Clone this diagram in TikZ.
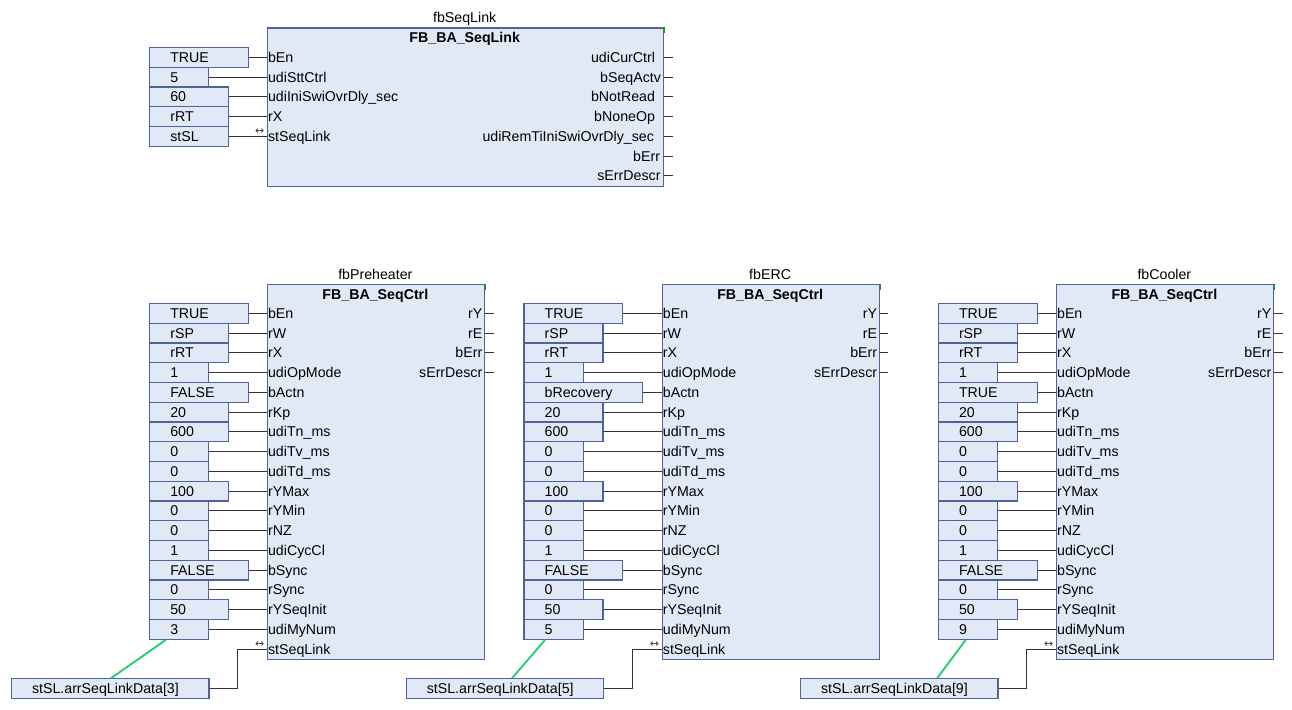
\documentclass[tikz,border=0pt]{standalone}
\usepackage{fontspec}
\setmainfont{Liberation Sans}
\newfontfamily\arrowfont{DejaVu Sans}
\usetikzlibrary{calc}

\definecolor{boxfill}{RGB}{225,233,246}
\definecolor{boxline}{RGB}{78,100,152}
\definecolor{wirecol}{RGB}{50,50,50}
\definecolor{linkgreen}{RGB}{30,205,110}
\definecolor{pingreen}{RGB}{20,150,40}

\tikzset{
  every node/.style={font=\fontsize{14.2}{16}\selectfont, inner sep=0pt, text=black},
  fbbox/.style={draw=boxline, fill=boxfill, line width=1.2pt},
  inbox/.style={draw=boxline, fill=boxfill, line width=1.2pt, minimum height=19.76pt,
                text height=13pt, text depth=3pt, anchor=west},
  wire/.style={draw=wirecol, line width=1pt},
  glink/.style={draw=linkgreen, line width=1.8pt},
  pinlbl/.style={anchor=base west},
  outlbl/.style={anchor=base east},
  typelbl/.style={anchor=base, font=\fontsize{14.2}{16}\selectfont\bfseries},
  instlbl/.style={anchor=base},
  biarrow/.style={font=\arrowfont\fontsize{11}{11}\selectfont, text=black!75},
  okmark/.style={draw=pingreen, line width=1.2pt},
}

% One FB_BA_SeqCtrl instance with its constant inputs and the link array element
% #1 id, #2 block left x, #3 input column x, #4 instance name, #5 inputs (text/width),
% #6 array index, #7 green link offset at the MyNum box, #8 green link offset at the array box
\newcommand\seqblock[8]{%
  \node[fbbox, minimum width=217.3pt, minimum height=375.1pt, anchor=north west] (#1) at (#2,284) {};
  \draw[okmark] (#1.north east) -- ++(0,6);
  \node[instlbl] (#1-inst) at ({#2+108.65},279.5) {#4};
  \node[typelbl] (#1-type) at ({#2+108.65},299.2) {FB\_BA\_SeqCtrl};
  \foreach \txt/\bw [count=\k from 0] in {#5} {
    \pgfmathsetmacro\yy{313.3+\k*19.76}
    \pgfmathsetlengthmacro\ww{\bw*19.76pt}
    \node[inbox] (#1-in\k) at (#3,\yy) {\makebox[\ww][l]{\hspace{20.7pt}\txt}};
    \draw[wire] (#1-in\k.east) -- (#1-in\k.east -| #1.west);
  }
  \foreach \pin [count=\k from 0] in {bEn,rW,rX,udiOpMode,bActn,rKp,udiTn\_ms,udiTv\_ms,
      udiTd\_ms,rYMax,rYMin,rNZ,udiCycCl,bSync,rSync,rYSeqInit,udiMyNum,stSeqLink} {
    \node[pinlbl] (#1-pin\k) at ({#2+1.2},{313.3+\k*19.76+5}) {\pin};
  }
  \foreach \out [count=\k from 0] in {rY,rE,bErr,sErrDescr} {
    \node[outlbl] (#1-out\k) at ({#2+217.3-1.5},{313.3+\k*19.76+5}) {\out};
    \coordinate (#1-q\k) at ({#2+217.3+9.5},{313.3+\k*19.76});
    \draw[wire] (#1-q\k -| #1.east) -- (#1-q\k);
  }
  \node[inbox] (#1-link) at ({#2-256},688.7)
    {\makebox[197.6pt][l]{\hspace{20.7pt}stSL.arrSeqLinkData[#6]}};
  \coordinate (#1-bend) at ({#2-29.4},649.2);
  \draw[wire] (#1-link.east) -| (#1-bend) -- (#1-bend -| #1.west);
  \node[biarrow] (#1-bi) at ({#2-7},644.3) {↔};
  \draw[glink] ($(#1-in16.south west)+(#7,0)$) -- ($(#1-link.north west)+(#8,0)$);
}

\begin{document}
\begin{tikzpicture}[x=1pt,y=-1pt]
  \useasboundingbox (0,0) rectangle (1292,709);
  \fill[white] (0,0) rectangle (1292,709);

  % ---------- FB_BA_SeqLink ----------
  \node[fbbox, minimum width=396pt, minimum height=158.3pt, anchor=north west] (sl) at (266.7,27.5) {};
  \draw[okmark] (sl.north east) -- ++(0,6);
  \node[instlbl] (sl-inst) at (464.7,22.7) {fbSeqLink};
  \node[typelbl] (sl-type) at (464.7,42.5) {FB\_BA\_SeqLink};
  \foreach \txt/\bw [count=\k from 0] in {TRUE/5,5/3,60/4,rRT/4,stSL/4} {
    \pgfmathsetmacro\yy{57.3+\k*19.76}
    \pgfmathsetlengthmacro\ww{\bw*19.76pt}
    \node[inbox] (sl-in\k) at (149,\yy) {\makebox[\ww][l]{\hspace{20.7pt}\txt}};
    \draw[wire] (sl-in\k.east) -- (sl-in\k.east -| sl.west);
  }
  \foreach \pin [count=\k from 0] in {bEn,udiSttCtrl,udiIniSwiOvrDly\_sec,rX,stSeqLink} {
    \node[pinlbl] (sl-pin\k) at (267.9,{57.3+\k*19.76+5}) {\pin};
  }
  \foreach \out/\dx [count=\k from 0] in {udiCurCtrl/7.5,bSeqActv/1.5,bNotRead/7.5,bNoneOp/7.5,
      udiRemTiIniSwiOvrDly\_sec/8.5,bErr/2.5,sErrDescr/2} {
    \node[outlbl] (sl-out\k) at ({662.7-\dx},{57.3+\k*19.76+5}) {\out};
    \coordinate (sl-q\k) at (672.7,{57.3+\k*19.76});
    \draw[wire] (sl-q\k -| sl.east) -- (sl-q\k);
  }
  \node[biarrow] (sl-bi) at (259.7,131.3) {↔};

  % ---------- FB_BA_SeqCtrl instances ----------
  \seqblock{ph}{266.7}{149}{fbPreheater}
    {TRUE/5,rSP/4,rRT/4,1/3,FALSE/5,20/4,600/4,0/3,0/3,100/4,0/3,0/3,1/3,FALSE/5,0/3,50/4,3/3}
    {3}{16.7}{100.3}
  \seqblock{erc}{661.5}{523.3}{fbERC}
    {TRUE/5,rSP/4,rRT/4,1/3,bRecovery/6,20/4,600/4,0/3,0/3,100/4,0/3,0/3,1/3,FALSE/5,0/3,50/4,5/3}
    {5}{21.7}{106.5}
  \seqblock{co}{1055.7}{937.7}{fbCooler}
    {TRUE/5,rSP/4,rRT/4,1/3,TRUE/5,20/4,600/4,0/3,0/3,100/4,0/3,0/3,1/3,FALSE/5,0/3,50/4,9/3}
    {9}{28}{137.4}
\end{tikzpicture}
\end{document}
